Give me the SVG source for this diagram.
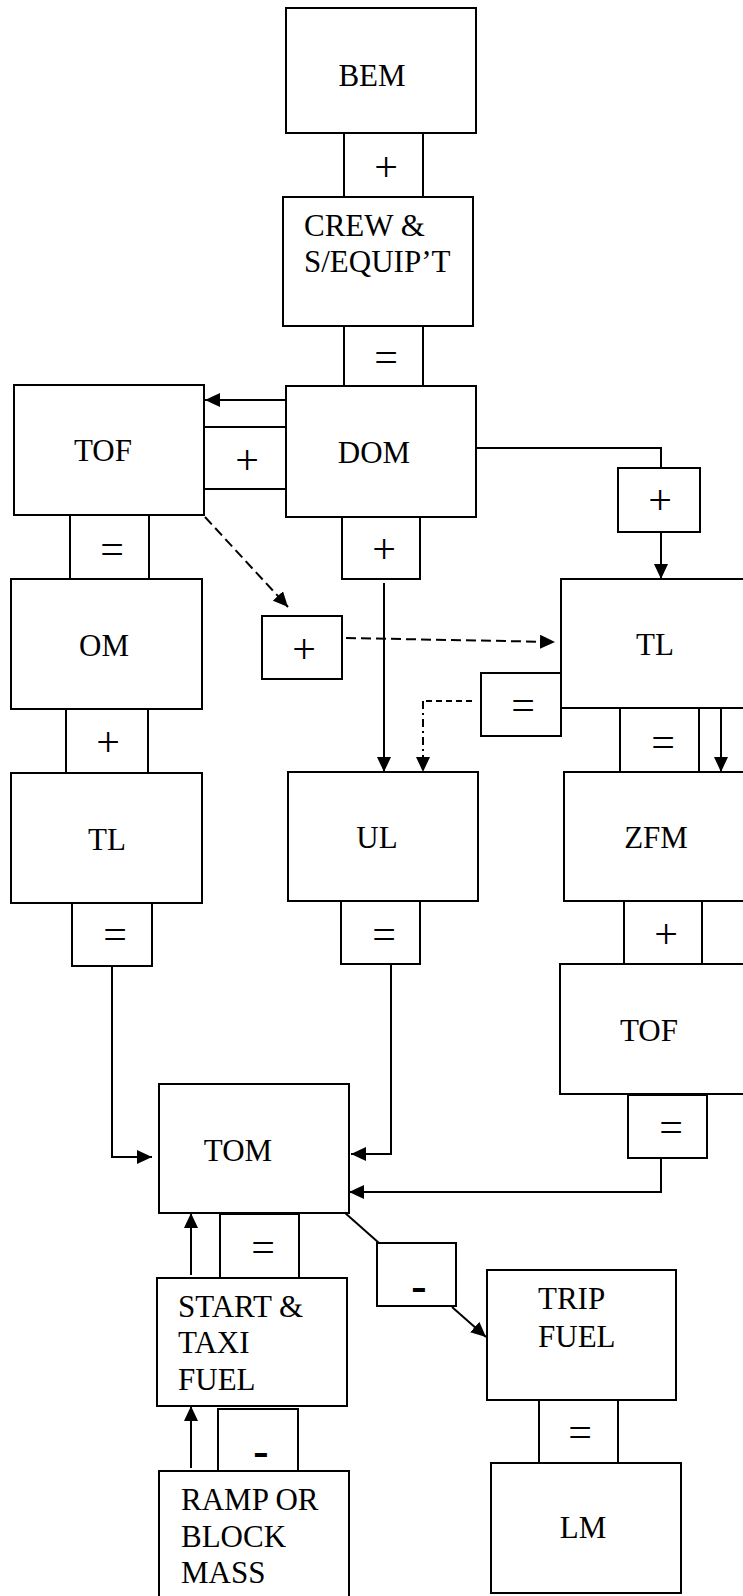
<svg xmlns="http://www.w3.org/2000/svg" width="743" height="1596" viewBox="0 0 743 1596">
<style>
rect{fill:#fff;stroke:#000;stroke-width:2}
.c{fill:none;stroke:#000;stroke-width:2}
text{font-family:"Liberation Serif","Times New Roman",serif;fill:#000}
.t{font-size:31px}
.m{text-anchor:middle}
.s{font-size:42px;text-anchor:middle}
.d{font-size:46px;font-weight:bold;text-anchor:middle}
.dash{stroke-dasharray:10 5}
.dot{stroke-dasharray:6 4}
.dd{stroke-dasharray:8 4 2 4}
</style>
<defs>
<marker id="ah" markerWidth="15" markerHeight="14" refX="15" refY="7" orient="auto" markerUnits="userSpaceOnUse"><path d="M0,0 L15,7 L0,14 z" fill="#000"/></marker>
</defs>
<g id="connectors">
<path class="c" d="M286,400 H205" marker-end="url(#ah)"/>
<path class="c" d="M476,448 H661 V468"/>
<path class="c" d="M661,532 V579" marker-end="url(#ah)"/>
<path class="c" d="M384,583 V772" marker-end="url(#ah)"/>
<path class="c dash" d="M205,517 L288,607" marker-end="url(#ah)"/>
<path class="c dash" d="M346,638 L555,642" marker-end="url(#ah)"/>
<path class="c dot" d="M472,701 H423"/>
<path class="c dd" d="M423,701 V772" marker-end="url(#ah)"/>
<path class="c" d="M721,708 V772" marker-end="url(#ah)"/>
<path class="c" d="M112,966 V1157 H152" marker-end="url(#ah)"/>
<path class="c" d="M391,964 V1154 H351" marker-end="url(#ah)"/>
<path class="c" d="M661,1158 V1192 H349" marker-end="url(#ah)"/>
<path class="c" d="M191,1275 V1213" marker-end="url(#ah)"/>
<path class="c" d="M191,1468 V1406" marker-end="url(#ah)"/>
<path class="c" d="M344,1212 L379,1243"/>
<path class="c" d="M452,1307 L486,1337" marker-end="url(#ah)"/>
</g>
<g id="op-plus-1"><rect x="344" y="133" width="79" height="64"/><text class="s" x="386" y="181">+</text></g>
<g id="op-eq-1"><rect x="344" y="326" width="79" height="60"/><text class="s" x="386" y="371">=</text></g>
<g id="op-plus-2"><rect x="204" y="427" width="82" height="62"/><text class="s" x="247" y="474">+</text></g>
<g id="op-eq-2"><rect x="70" y="515" width="79" height="64"/><text class="s" x="112" y="563">=</text></g>
<g id="op-plus-3"><rect x="66" y="709" width="82" height="64"/><text class="s" x="108" y="756">+</text></g>
<g id="op-eq-3"><rect x="72" y="903" width="80" height="63"/><text class="s" x="115" y="948">=</text></g>
<g id="op-plus-4"><rect x="342" y="517" width="78" height="62"/><text class="s" x="384" y="563">+</text></g>
<g id="op-eq-4"><rect x="341" y="901" width="79" height="63"/><text class="s" x="384" y="948">=</text></g>
<g id="op-plus-5"><rect x="262" y="616" width="80" height="63"/><text class="s" x="304" y="663">+</text></g>
<g id="op-plus-6"><rect x="618" y="468" width="82" height="64"/><text class="s" x="660" y="514">+</text></g>
<g id="op-eq-5"><rect x="481" y="673" width="80" height="63"/><text class="s" x="523" y="719">=</text></g>
<g id="op-eq-6"><rect x="620" y="708" width="79" height="64"/><text class="s" x="663" y="756">=</text></g>
<g id="op-plus-7"><rect x="624" y="901" width="78" height="63"/><text class="s" x="666" y="948">+</text></g>
<g id="op-eq-7"><rect x="628" y="1095" width="79" height="63"/><text class="s" x="671" y="1141">=</text></g>
<g id="op-eq-8"><rect x="220" y="1214" width="79" height="64"/><text class="s" x="263" y="1261">=</text></g>
<g id="op-minus-1"><rect x="218" y="1409" width="80" height="63"/><text class="d" x="261" y="1466">-</text></g>
<g id="op-minus-2"><rect x="377" y="1243" width="79" height="63"/><text class="d" x="419" y="1301">-</text></g>
<g id="op-eq-9"><rect x="539" y="1399" width="79" height="64"/><text class="s" x="580" y="1446">=</text></g>
<g id="bem"><rect x="286" y="8" width="190" height="125"/><text class="t m" x="372" y="86">BEM</text></g>
<g id="crew"><rect x="283" y="197" width="190" height="129"/><text class="t" x="304" y="236">CREW &amp;</text><text class="t" x="304" y="272">S/EQUIP’T</text></g>
<g id="dom"><rect x="286" y="386" width="190" height="131"/><text class="t m" x="374" y="463">DOM</text></g>
<g id="tof-left"><rect x="14" y="385" width="190" height="130"/><text class="t m" x="103" y="461">TOF</text></g>
<g id="om"><rect x="11" y="579" width="191" height="130"/><text class="t m" x="104" y="656">OM</text></g>
<g id="tl-left"><rect x="11" y="773" width="191" height="130"/><text class="t m" x="107" y="850">TL</text></g>
<g id="ul"><rect x="288" y="772" width="190" height="129"/><text class="t m" x="377" y="848">UL</text></g>
<g id="tl-right"><rect x="561" y="579" width="200" height="129"/><text class="t m" x="655" y="655">TL</text></g>
<g id="zfm"><rect x="564" y="772" width="200" height="129"/><text class="t m" x="656" y="848">ZFM</text></g>
<g id="tof-right"><rect x="560" y="964" width="200" height="130"/><text class="t m" x="649" y="1041">TOF</text></g>
<g id="tom"><rect x="159" y="1084" width="190" height="129"/><text class="t m" x="238" y="1161">TOM</text></g>
<g id="start-taxi"><rect x="157" y="1278" width="190" height="128"/><text class="t" x="178" y="1317">START &amp;</text><text class="t" x="178" y="1353">TAXI</text><text class="t" x="178" y="1390">FUEL</text></g>
<g id="ramp"><rect x="159" y="1471" width="190" height="140"/><text class="t" x="181" y="1510">RAMP OR</text><text class="t" x="181" y="1547">BLOCK</text><text class="t" x="181" y="1583">MASS</text></g>
<g id="trip"><rect x="487" y="1270" width="189" height="130"/><text class="t" x="538" y="1309">TRIP</text><text class="t" x="538" y="1347">FUEL</text></g>
<g id="lm"><rect x="491" y="1463" width="190" height="130"/><text class="t m" x="583" y="1538">LM</text></g>
</svg>
